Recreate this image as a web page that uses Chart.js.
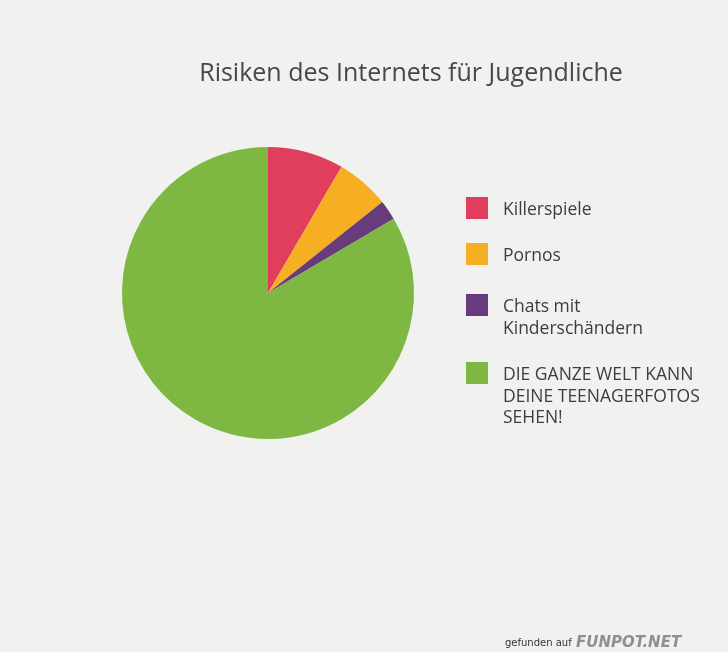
<!DOCTYPE html>
<html>
<head>
<meta charset="utf-8">
<script src="https://cdn.jsdelivr.net/npm/chart.js@4/dist/chart.umd.min.js"></script>
<style>
  body { margin: 0; background: #f1f1f0; }
  #wrap { width: 728px; height: 652px; }
</style>
</head>
<body>
<div id="wrap"><canvas id="miGrafica" width="728" height="652"></canvas></div>
<script>
var titulo = "Risiken des Internets für Jugendliche";
var etiquetas = ["Killerspiele", "Pornos", "Chats mit Kinderschändern", "DIE GANZE WELT KANN DEINE TEENAGERFOTOS SEHEN!"];
// como se parte cada etiqueta en la leyenda
var lineasLeyenda = [
    ["Killerspiele"],
    ["Pornos"],
    ["Chats mit", "Kinderschändern"],
    ["DIE GANZE WELT KANN", "DEINE TEENAGERFOTOS", "SEHEN!"]
];
var valores = [8.4, 5.9, 2.2, 83.5];
var colores = ["#e03e5c", "#f6ae22", "#683c7c", "#7eb843"];

document.addEventListener("DOMContentLoaded", function(){
    grafica();
});

function grafica(){
    let miCanvas = document.getElementById("miGrafica").getContext("2d");

    // titulo, leyenda y pie de pagina dibujados a mano
    var textos = {
        id: "textos",
        beforeDraw: function(chart){
            var ctx = chart.ctx;
            ctx.save();
            ctx.fillStyle = "#f1f1f0";
            ctx.fillRect(0, 0, chart.width, chart.height);
            ctx.restore();
        },
        afterDraw: function(chart){
            var ctx = chart.ctx;
            ctx.save();
            ctx.fillStyle = "#474747";
            ctx.font = "25px 'Open Sans'";
            ctx.textAlign = "center";
            ctx.textBaseline = "alphabetic";
            ctx.fillText(titulo, 411, 81);

            var cajas = [197, 243, 294, 362];
            ctx.textAlign = "left";
            ctx.font = "17.5px 'Open Sans'";
            for (var i = 0; i < lineasLeyenda.length; i++) {
                ctx.fillStyle = colores[i];
                ctx.fillRect(466, cajas[i], 22, 22);
                ctx.fillStyle = "#3d3d3d";
                for (var j = 0; j < lineasLeyenda[i].length; j++) {
                    ctx.fillText(lineasLeyenda[i][j], 503, cajas[i] + 18 + j * 21.5);
                }
            }

            ctx.fillStyle = "#333";
            ctx.font = "10px 'DejaVu Sans'";
            ctx.fillText("gefunden auf", 505, 646);
            ctx.fillStyle = "#8f8f8f";
            ctx.font = "italic bold 15px 'DejaVu Sans'";
            ctx.fillText("FUNPOT.NET", 576, 647);
            ctx.restore();
        }
    };

    var chart = new Chart(miCanvas, {
        type: "pie",
        data: {
            labels: etiquetas,
            datasets: [{
                data: valores,
                backgroundColor: colores,
                borderWidth: 0
            }]
        },
        options: {
            responsive: false,
            animation: false,
            layout: { padding: { left: 122, right: 314, top: 147, bottom: 213 } },
            plugins: {
                legend: { display: false },
                title: { display: false },
                tooltip: { enabled: false }
            }
        },
        plugins: [textos]
    });
}
</script>
</body>
</html>
